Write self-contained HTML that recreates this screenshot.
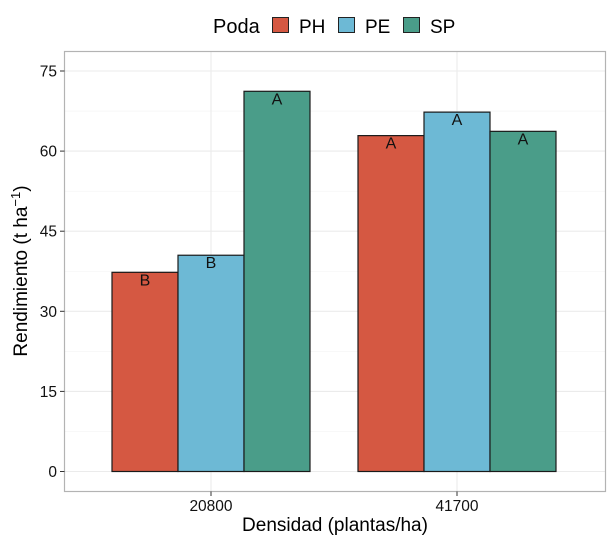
<!DOCTYPE html>
<html><head><meta charset="utf-8"><style>
body{margin:0;background:#fff;font-family:"Liberation Sans",Arial,sans-serif}
svg text{font-family:"Liberation Sans",Arial,sans-serif}
</style></head><body>
<svg id="chart" width="613" height="547" xmlns="http://www.w3.org/2000/svg">
<g id="grid"></g>
<g id="bars"></g>
<rect x="64.5" y="51.5" width="541" height="440" fill="none" stroke="#b3b3b3" stroke-width="1.2"/>
<g id="axes"></g>
<text transform="translate(27,271) rotate(-90)" text-anchor="middle" font-size="19" fill="#000">Rendimiento (t ha<tspan dy="-7" font-size="13">−1</tspan><tspan dy="7">)</tspan></text>
<text x="335" y="531" text-anchor="middle" font-size="19" fill="#000">Densidad (plantas/ha)</text>
<g>
<text x="213" y="33" font-size="20">Poda</text>
<rect x="272.5" y="17.5" width="16" height="15" fill="#d55842" stroke="#222"/>
<text x="299" y="33" font-size="19">PH</text>
<rect x="338.5" y="17.5" width="16" height="15" fill="#6db9d5" stroke="#222"/>
<text x="365" y="33" font-size="19">PE</text>
<rect x="403.5" y="17.5" width="16" height="15" fill="#4a9d89" stroke="#222"/>
<text x="430" y="33" font-size="19">SP</text>
</g>
</svg>
<script>
const categories = ["20800", "41700"];
const seriesNames = ["PH", "PE", "SP"];
const valuesPH = [37.3, 62.9];
const valuesPE = [40.5, 67.3];
const valuesSP = [71.2, 63.7];
const lettersPH = ["B", "A"];
const lettersPE = ["B", "A"];
const lettersSP = ["A", "A"];
const yTicks = [0, 15, 30, 45, 60, 75];

const NS = "http://www.w3.org/2000/svg";
const colors = ["#d55842", "#6db9d5", "#4a9d89"];
const y = v => 471.5 - v * (400.5 / 75);
const xc = i => 211 + i * 246;
const bw = 66;
function mk(tag, attrs, parent){const e=document.createElementNS(NS,tag);for(const k in attrs)e.setAttribute(k,attrs[k]);parent.appendChild(e);return e;}
const grid=document.getElementById('grid'), bars=document.getElementById('bars'), axes=document.getElementById('axes');
for(let i=0;i<yTicks.length;i++){
  const l=mk('line',{x1:64.5,x2:605.5,y1:y(yTicks[i]),y2:y(yTicks[i]),stroke:'#ebebeb','stroke-width':1.1},grid);
  
  
  if(i<yTicks.length-1){
    const m=mk('line',{x1:64.5,x2:605.5,y1:y((yTicks[i]+yTicks[i+1])/2),y2:y((yTicks[i]+yTicks[i+1])/2),stroke:'#f3f3f3','stroke-width':0.6},grid);
    
    
  }
  const t=mk('line',{x1:60,x2:64.5,y1:y(yTicks[i]),y2:y(yTicks[i]),stroke:'#333'},axes);
  
  
  const tx=mk('text',{x:57,y:y(yTicks[i])+5.5,'text-anchor':'end','font-size':15.5,fill:'#111'},axes);
  tx.textContent=yTicks[i];
  
  
}
const series=[valuesPH,valuesPE,valuesSP], letters=[lettersPH,lettersPE,lettersSP];
categories.forEach((c,i)=>{
  const g=mk('line',{x1:xc(i),x2:xc(i),y1:51.5,y2:491.5,stroke:'#ebebeb','stroke-width':1.1},grid);
  
  
  const t=mk('line',{x1:xc(i),x2:xc(i),y1:491.5,y2:496,stroke:'#333'},axes);
  
  
  const tx=mk('text',{x:xc(i),y:511,'text-anchor':'middle','font-size':15.5,fill:'#111'},axes);
  tx.textContent=c;
  
  
  series.forEach((s,j)=>{
    const x0=xc(i)-1.5*bw+j*bw;
    const r=mk('rect',{x:x0,y:y(s[i]),width:bw,height:y(0)-y(s[i]),fill:colors[j],stroke:'#1a1a1a','stroke-width':1.2},bars);
    
    
    const lt=mk('text',{x:x0+bw/2,y:y(s[i])+13,'text-anchor':'middle','font-size':16,fill:'#111'},bars);
    lt.textContent=letters[j][i];
    
    
  });
});
</script>
</body></html>
